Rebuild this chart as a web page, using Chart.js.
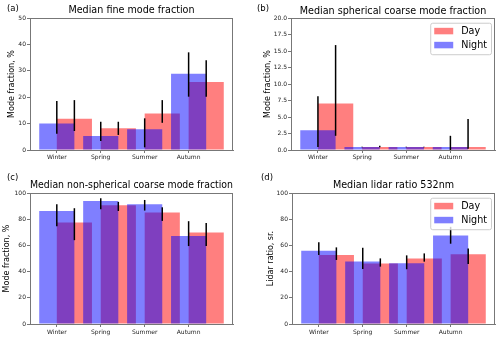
<!DOCTYPE html>
<html>
<head>
<meta charset="utf-8">
<script src="https://cdn.jsdelivr.net/npm/chart.js@4.4.1/dist/chart.umd.min.js"></script>
<style>
  body { margin: 0; width: 500px; height: 339px; position: relative; background: #fff; overflow: hidden; font-family: 'DejaVu Sans', sans-serif; }
  canvas { position: absolute; }
  .tag { position: absolute; font-size: 8.5px; line-height: 1; color: #000; }
</style>
</head>
<body>
<canvas id="panelA" width="250" height="170" style="left:0;top:0"></canvas>
<canvas id="panelB" width="250" height="170" style="left:250px;top:0"></canvas>
<canvas id="panelC" width="250" height="169" style="left:0;top:170px"></canvas>
<canvas id="panelD" width="250" height="169" style="left:250px;top:170px"></canvas>
<div class="tag" style="left:7px;top:4px">(a)</div>
<div class="tag" style="left:257px;top:4px">(b)</div>
<div class="tag" style="left:7px;top:173px">(c)</div>
<div class="tag" style="left:261px;top:173px">(d)</div>
<script>
const seasons = ['Winter', 'Spring', 'Summer', 'Autumn'];

// (a) fine mode fraction, %
const fineNight = [10.0, 5.3, 7.9, 28.9];
const fineNightLo = [6.2, 3.4, 1.0, 20.2];
const fineNightHi = [18.6, 10.7, 12.0, 37.0];
const fineDay = [11.8, 8.2, 13.8, 25.8];
const fineDayLo = [7.2, 5.7, 10.3, 20.2];
const fineDayHi = [18.9, 10.7, 18.9, 34.0];

// (b) spherical coarse mode fraction, %
const sphNight = [3.0, 0.45, 0.45, 0.45];
const sphNightLo = [0.45, 0.4, 0.4, 0.0];
const sphNightHi = [8.15, 0.5, 0.5, 2.15];
const sphDay = [7.05, 0.45, 0.45, 0.45];
const sphDayLo = [2.15, 0.4, 0.4, 0.2];
const sphDayHi = [15.9, 0.65, 0.5, 4.7];

// (c) non-spherical coarse mode fraction, %
const nsNight = [86.3, 93.9, 91.4, 67.1];
const nsNightLo = [74.7, 87.6, 86.6, 59.5];
const nsNightHi = [91.4, 96.0, 94.7, 78.5];
const nsDay = [77.5, 90.6, 85.1, 69.9];
const nsDayLo = [64.0, 86.3, 78.7, 59.5];
const nsDayHi = [88.4, 93.2, 89.1, 77.2];

// (d) lidar ratio 532nm, sr
const lrNight = [56.0, 47.8, 46.3, 67.6];
const lrNightLo = [52.7, 42.0, 41.8, 61.3];
const lrNightHi = [62.5, 58.2, 52.4, 74.2];
const lrDay = [52.7, 46.1, 50.1, 53.2];
const lrDayLo = [48.9, 43.8, 47.6, 45.8];
const lrDayHi = [58.5, 50.1, 53.9, 57.7];

const FONT = "'DejaVu Sans', sans-serif";
Chart.defaults.font.family = FONT;
const spine = '#777';
const dayShift = 0.4;

// error bars + box spines (drawn above bars like matplotlib)
const errorBars = {
  id: 'errorBars',
  afterDatasetsDraw(chart) {
    const ctx = chart.ctx;
    const ys = chart.scales.y;
    ctx.save();
    ctx.strokeStyle = '#000';
    ctx.lineWidth = 1.5;
    chart.data.datasets.forEach((ds, d) => {
      chart.getDatasetMeta(d).data.forEach((bar, i) => {
        ctx.beginPath();
        ctx.moveTo(bar.x, ys.getPixelForValue(ds.lo[i]));
        ctx.lineTo(bar.x, ys.getPixelForValue(ds.hi[i]));
        ctx.stroke();
      });
    });
    const a = chart.chartArea;
    ctx.strokeStyle = spine;
    ctx.lineWidth = 1;
    ctx.strokeRect(Math.round(a.left) + 0.5, Math.round(a.top) + 0.5,
      Math.round(a.right - a.left) - 1, Math.round(a.bottom - a.top));
    ctx.restore();
  }
};

// matplotlib-like legend box in the upper right corner
const boxLegend = {
  id: 'boxLegend',
  afterDraw(chart, args, opts) {
    if (!opts.show) return;
    const ctx = chart.ctx;
    const a = chart.chartArea;
    const items = chart.data.datasets.slice().reverse();
    ctx.save();
    ctx.font = '9.6px ' + FONT;
    const tw = Math.max(...items.map(ds => ctx.measureText(ds.label).width));
    const w = 4 + 19 + 8 + tw + 4;
    const h = 31.5;
    const x = a.right - 4 - w;
    const y = a.top + 4.7;
    ctx.fillStyle = 'rgba(255,255,255,0.8)';
    ctx.strokeStyle = '#ccc';
    ctx.lineWidth = 1;
    ctx.beginPath();
    ctx.roundRect(x + 0.5, y + 0.5, w, h, 2);
    ctx.fill();
    ctx.stroke();
    ctx.textBaseline = 'middle';
    items.forEach((ds, k) => {
      const cy = y + 8.3 + k * 14;
      ctx.fillStyle = ds.backgroundColor;
      ctx.fillRect(x + 4, cy - 3.2, 19, 6.5);
      ctx.fillStyle = '#000';
      ctx.fillText(ds.label, x + 31, cy + 0.5);
    });
    ctx.restore();
  }
};

function makePanel(id, p) {
  const tickFont = { family: FONT, size: 6 };
  return new Chart(document.getElementById(id), {
    type: 'bar',
    data: {
      datasets: [
        {
          label: 'Night',
          data: seasons.map((s, i) => ({ x: i, y: p.night[i] })),
          lo: p.nightLo, hi: p.nightHi,
          backgroundColor: 'rgba(0,0,255,0.5)'
        },
        {
          label: 'Day',
          data: seasons.map((s, i) => ({ x: i + dayShift, y: p.day[i] })),
          lo: p.dayLo, hi: p.dayHi,
          backgroundColor: 'rgba(255,0,0,0.5)'
        }
      ]
    },
    options: {
      responsive: false,
      animation: false,
      layout: { padding: { left: 0, right: p.padRight, top: 0, bottom: 0 } },
      datasets: { bar: { grouped: false, categoryPercentage: 1, barPercentage: 2, borderWidth: 0 } },
      plugins: {
        legend: { display: false },
        tooltip: { enabled: false },
        boxLegend: { show: p.legend },
        title: {
          display: true,
          text: p.title,
          fullSize: false,
          color: '#000',
          font: { family: FONT, size: 9.6, weight: 'normal', lineHeight: 1.2 },
          padding: { top: p.titleTop, bottom: p.titleBottom }
        }
      },
      scales: {
        x: {
          type: 'linear',
          offset: false,
          min: -0.61,
          max: 4.01,
          afterBuildTicks: s => { s.ticks = seasons.map((n, i) => ({ value: i })); },
          afterFit: s => { s.height = p.xHeight; },
          ticks: { callback: v => seasons[v], font: tickFont, color: '#222', padding: p.xPad, maxRotation: 0, autoSkip: false },
          grid: { drawOnChartArea: false, offset: false, tickLength: 3, color: spine },
          border: { color: spine }
        },
        y: {
          min: 0,
          max: p.max,
          afterFit: s => { s.width = p.yWidth; },
          ticks: { stepSize: p.step, callback: p.fmt, font: tickFont, color: '#222', padding: 1 },
          grid: { drawOnChartArea: false, tickLength: 3, color: spine },
          border: { color: spine },
          title: {
            display: true,
            text: p.ylabel,
            color: '#000',
            font: { family: FONT, size: 8, lineHeight: 1 },
            padding: { top: p.yTitlePad, bottom: 0 }
          }
        }
      }
    },
    plugins: [errorBars, boxLegend]
  });
}

const intFmt = v => String(v);

makePanel('panelA', {
  title: 'Median fine mode fraction', ylabel: 'Mode fraction, %',
  night: fineNight, nightLo: fineNightLo, nightHi: fineNightHi,
  day: fineDay, dayLo: fineDayLo, dayHi: fineDayHi,
  max: 50, step: 10, fmt: intFmt, legend: false,
  padRight: 17, yWidth: 30, xHeight: 20, xPad: 1,
  titleTop: 5.2, titleBottom: 1.3, yTitlePad: 7.7
});

makePanel('panelB', {
  title: 'Median spherical coarse mode fraction', ylabel: 'Mode fraction, %',
  night: sphNight, nightLo: sphNightLo, nightHi: sphNightHi,
  day: sphDay, dayLo: sphDayLo, dayHi: sphDayHi,
  max: 20, step: 2.5, fmt: v => v.toFixed(1), legend: true,
  padRight: 5, yWidth: 41, xHeight: 20, xPad: 1,
  titleTop: 5.9, titleBottom: 0.6, yTitlePad: 13.5
});

makePanel('panelC', {
  title: 'Median non-spherical coarse mode fraction', ylabel: 'Mode fraction, %',
  night: nsNight, nightLo: nsNightLo, nightHi: nsNightHi,
  day: nsDay, dayLo: nsDayLo, dayHi: nsDayHi,
  max: 100, step: 20, fmt: intFmt, legend: false,
  padRight: 17, yWidth: 30, xHeight: 15, xPad: 2,
  titleTop: 9.9, titleBottom: 1.6, yTitlePad: 3.3
});

makePanel('panelD', {
  title: 'Median lidar ratio 532nm', ylabel: 'Lidar ratio, sr.',
  night: lrNight, nightLo: lrNightLo, nightHi: lrNightHi,
  day: lrDay, dayLo: lrDayLo, dayHi: lrDayHi,
  max: 100, step: 20, fmt: intFmt, legend: true,
  padRight: 5, yWidth: 42, xHeight: 15, xPad: 2,
  titleTop: 9.9, titleBottom: 1.6, yTitlePad: 16.7
});
</script>
</body>
</html>
